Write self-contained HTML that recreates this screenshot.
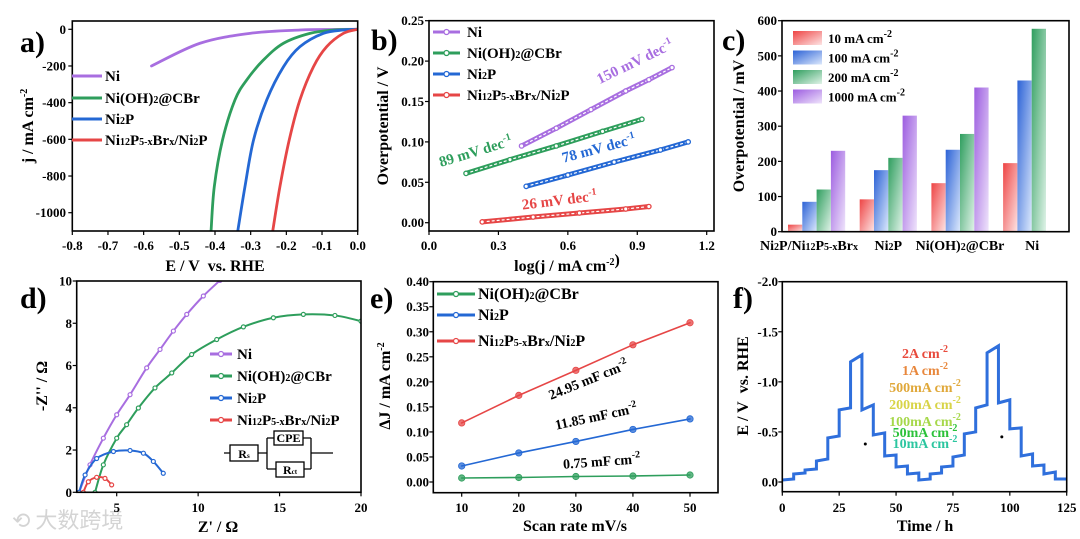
<!DOCTYPE html>
<html><head><meta charset="utf-8">
<style>
html,body{margin:0;padding:0;background:#fff;}
svg{display:block;font-family:"Liberation Serif","Noto Serif CJK SC",serif;font-weight:bold;}
</style></head>
<body>
<svg id="fig" width="1080" height="539" viewBox="0 0 1080 539" xmlns="http://www.w3.org/2000/svg">
<defs>
<linearGradient id="gRed" x1="0" y1="0" x2="1" y2="1"><stop offset="0" stop-color="#ee4444"/><stop offset="1" stop-color="#fde4e4"/></linearGradient>
<linearGradient id="gBlue" x1="0" y1="0" x2="1" y2="1"><stop offset="0" stop-color="#2c62d6"/><stop offset="1" stop-color="#dbe8fc"/></linearGradient>
<linearGradient id="gGreen" x1="0" y1="0" x2="1" y2="1"><stop offset="0" stop-color="#2f9e5e"/><stop offset="1" stop-color="#e0f3e8"/></linearGradient>
<linearGradient id="gPurple" x1="0" y1="0" x2="1" y2="1"><stop offset="0" stop-color="#9c5ce0"/><stop offset="1" stop-color="#efe4fb"/></linearGradient>
</defs>
<text x="20" y="52" font-size="30">a)</text>
<text x="371" y="50" font-size="30">b)</text>
<text x="722" y="50" font-size="30">c)</text>
<text x="20" y="308" font-size="30">d)</text>
<text x="370" y="308" font-size="30">e)</text>
<text x="733" y="308" font-size="30">f)</text>
<text x="12" y="528" font-size="22" fill="#d4d4d4" font-family="'Noto Sans CJK SC',sans-serif" font-weight="normal">⟲ 大数跨境</text>
</svg>
<script>
const NS="http://www.w3.org/2000/svg";
const svg=document.getElementById('fig');
function mk(tag,attrs,parent){const e=document.createElementNS(NS,tag);for(const k in attrs)e.setAttribute(k,attrs[k]);(parent||svg).appendChild(e);return e;}
function lin(d0,d1,p0,p1){return v=>p0+(v-d0)*(p1-p0)/(d1-d0);}

// ---------- Panel a data ----------
const aNiE=[-0.578,-0.442,-0.302,-0.162,-0.07,0.0];
const aNiJ=[-200,-76,-22,-4,-1,0];
const aOHE=[-0.411,-0.402,-0.379,-0.344,-0.311,-0.264,-0.208,-0.134,-0.068,0.0];
const aOHJ=[-1098,-858,-604,-385,-276,-167,-76,-22,-4,0];
const aNi2PE=[-0.336,-0.316,-0.292,-0.255,-0.208,-0.162,-0.096,-0.04,0.0];
const aNi2PJ=[-1098,-858,-604,-385,-204,-95,-22,-4,0];
const aHetE=[-0.238,-0.218,-0.192,-0.162,-0.124,-0.087,-0.04,0.0];
const aHetJ=[-1098,-858,-604,-385,-204,-95,-22,0];
const aXTicks=[-0.8,-0.7,-0.6,-0.5,-0.4,-0.3,-0.2,-0.1,0.0];
const aYTicks=[0,-200,-400,-600,-800,-1000];

// ---------- Panel b data ----------
const bNiX=[0.40,0.55,0.70,0.85,0.95,1.05];
const bNiY=[0.095,0.117,0.140,0.163,0.177,0.192];
const bOHX=[0.16,0.35,0.55,0.75,0.92];
const bOHY=[0.061,0.078,0.095,0.113,0.128];
const bNi2PX=[0.42,0.60,0.80,1.00,1.12];
const bNi2PY=[0.045,0.059,0.075,0.090,0.100];
const bHetX=[0.23,0.45,0.65,0.85,0.95];
const bHetY=[0.001,0.007,0.012,0.017,0.020];
const bXTicks=[0.0,0.3,0.6,0.9,1.2];
const bYTicks=[0.00,0.05,0.10,0.15,0.20,0.25];

// ---------- Panel c data ----------
const cCats=['Ni<tspan font-size="10">2</tspan>P/Ni<tspan font-size="10">12</tspan>P<tspan font-size="10">5-x</tspan>Br<tspan font-size="10">x</tspan>','Ni<tspan font-size="10">2</tspan>P','Ni(OH)<tspan font-size="10">2</tspan>@CBr','Ni'];
const c10=[20,92,138,195];
const c100=[85,175,233,430];
const c200=[120,210,278,577];
const c1000=[230,330,410,null];
const cYTicks=[0,100,200,300,400,500,600];

// ---------- Panel d data ----------
const dNiX=[2.69,3.36,4.18,5.0,5.82,6.84,7.66,8.48,9.3,10.32,11.34];
const dNiY=[0,1.3,2.56,3.67,4.62,5.89,6.76,7.63,8.42,9.29,10.03];
const dOHX=[3.67,4.18,5.0,5.61,6.33,7.35,8.38,9.6,11.14,12.78,14.62,16.46,18.4,20.0];
const dOHY=[0,1.3,2.56,3.2,3.99,4.94,5.65,6.52,7.23,7.83,8.26,8.42,8.37,8.1];
const dNi2PX=[2.69,3.06,3.77,4.8,5.82,6.64,7.25,7.86];
const dNi2PY=[0,0.82,1.6,1.93,1.98,1.85,1.46,0.9];
const dHetX=[2.95,3.26,3.77,4.28,4.69];
const dHetY=[0,0.5,0.71,0.66,0.35];
const dXTicks=[5,10,15,20];
const dYTicks=[0,2,4,6,8,10];

// ---------- Panel e data ----------
const eRates=[10,20,30,40,50];
const eOH=[0.008,0.009,0.011,0.012,0.014];
const eNi2P=[0.032,0.058,0.081,0.105,0.126];
const eHet=[0.118,0.173,0.223,0.274,0.318];
const eYTicks=[0.00,0.05,0.10,0.15,0.20,0.25,0.30,0.35,0.40];

// ---------- Panel f data ----------
const fStart=[0,5,10,15,20,25,30,35,40,45,50,55,60,65,70,75,80,85,90,95,100,105,110,115,120];
const fEa=[-0.02,-0.08,-0.12,-0.21,-0.44,-0.72,-1.20,-0.72,-0.47,-0.26,-0.15,-0.08,-0.02,-0.08,-0.15,-0.25,-0.48,-0.74,-1.29,-0.79,-0.53,-0.26,-0.16,-0.08,-0.03];
const fEb=[-0.03,-0.09,-0.13,-0.23,-0.46,-0.74,-1.27,-0.77,-0.49,-0.27,-0.16,-0.09,-0.03,-0.09,-0.16,-0.27,-0.50,-0.77,-1.36,-0.82,-0.54,-0.28,-0.17,-0.10,-0.03];
const fXTicks=[0,25,50,75,100,125];
const fYTicks=[0.0,-0.5,-1.0,-1.5,-2.0];

function fmt(v,d){return v.toFixed(d);}

function frame(name,L,R,T,B){
  const r=mk('rect',{x:L,y:T,width:R-L,height:B-T,fill:'none',stroke:'#000','stroke-width':1.6});
  
  
}
function xTicks(name,L,R,T,B,ticks,sx,dec,labY){
  ticks.forEach(v=>{
    const x=sx(v);
    const t=mk('line',{x1:x,x2:x,y1:B,y2:B+4,stroke:'#000','stroke-width':1.2});
    
    
    const tx=mk('text',{x:x,y:labY,'font-size':13,'text-anchor':'middle'});
    tx.textContent=fmt(v,dec);
    
    
  });
}
function yTicks(name,L,ticks,sy,dec,labX){
  ticks.forEach(v=>{
    const y=sy(v);
    const t=mk('line',{x1:L-4,x2:L,y1:y,y2:y,stroke:'#000','stroke-width':1.2});
    
    
    const tx=mk('text',{x:labX,y:y+4.5,'font-size':13,'text-anchor':'end'});
    tx.textContent=fmt(v,dec);
    
    
  });
}
function title(name,x,y,html,rot,size){
  const t=mk('text',{x:x,y:y,'font-size':size||16,'text-anchor':'middle',transform:rot?`rotate(-90 ${x} ${y})`:''});
  t.innerHTML=html;
  
  
  return t;
}
function smoothD(pts){
  let d='M'+pts[0][0]+' '+pts[0][1];
  for(let i=0;i<pts.length-1;i++){
    const p0=pts[Math.max(i-1,0)],p1=pts[i],p2=pts[i+1],p3=pts[Math.min(i+2,pts.length-1)];
    const c1x=p1[0]+(p2[0]-p0[0])/6,c1y=p1[1]+(p2[1]-p0[1])/6;
    const c2x=p2[0]-(p3[0]-p1[0])/6,c2y=p2[1]-(p3[1]-p1[1])/6;
    d+=`C${c1x} ${c1y} ${c2x} ${c2y} ${p2[0]} ${p2[1]}`;
  }
  return d;
}
function curve(name,xs,ys,sx,sy,color,w){
  const pts=xs.map((x,i)=>[sx(x),sy(ys[i])]);
  const p=mk('path',{d:smoothD(pts),fill:'none',stroke:color,'stroke-width':w,'stroke-linejoin':'round','stroke-linecap':'round'});
  
  
  return p;
}
function poly(name,xs,ys,sx,sy,color,w){
  const p=mk('polyline',{points:xs.map((x,i)=>sx(x)+','+sy(ys[i])).join(' '),fill:'none',stroke:color,'stroke-width':w,'stroke-linejoin':'round','stroke-linecap':'round'});
  
  
  return p;
}
function dots(name,xs,ys,sx,sy,color,r){
  xs.forEach((x,i)=>{
    const c=mk('circle',{cx:sx(x),cy:sy(ys[i]),r:r,fill:'#fff',stroke:color,'stroke-width':1.3});
    
    
  });
}
function legendRow(name,x1,x2,y,color,html,tx,marker,size){
  const l=mk('line',{x1:x1,x2:x2,y1:y,y2:y,stroke:color,'stroke-width':3});
  
  
  if(marker){
    const c=mk('circle',{cx:(x1+x2)/2,cy:y,r:2.5,fill:'#fff',stroke:color,'stroke-width':1.3});
    
    
  }
  const t=mk('text',{x:tx,y:y+5,'font-size':size||15});
  t.innerHTML=html;
  
  
}
const SUB=s=>`<tspan font-size="10">${s}</tspan>`;
const SUP=s=>`<tspan dy="-6" font-size="10">${s}</tspan>`;
const N_NI='Ni', N_OH='Ni(OH)'+SUB('2')+'@CBr', N_P='Ni'+SUB('2')+'P', N_H='Ni'+SUB('12')+'P'+SUB('5-x')+'Br'+SUB('x')+'/Ni'+SUB('2')+'P';
const PUR='#a86ee0',GRN='#2e9e5c',BLU='#2468d4',RED='#e64646';

// ===== Panel a =====
(function(){
  const L=72.3,R=357.7,T=21,B=231;
  const sx=lin(-0.8,0,L,R), sy=lin(0,-1000,29.3,212.7);
  const c=mk('clipPath',{id:'clipA'});mk('rect',{x:L,y:T,width:R-L,height:B-T},c);
  const g=mk('g',{'clip-path':'url(#clipA)'});
  
  
  [[aNiE,aNiJ,PUR,'lsv-ni'],[aOHE,aOHJ,GRN,'lsv-ni-oh2'],[aNi2PE,aNi2PJ,BLU,'lsv-ni2p'],[aHetE,aHetJ,RED,'lsv-heterostructure']].forEach(s=>{
    const p=curve(s[3],s[0],s[1],sx,sy,s[2],2.8); g.appendChild(p);
  });
  frame('panel-a',L,R,T,B);
  xTicks('panel-a',L,R,T,B,aXTicks,sx,1,250);
  yTicks('panel-a',L,aYTicks,sy,0,66);
  title('panel-a-x-title',215,271,'E / V&#160; vs. RHE');
  title('panel-a-y-title',33,126,'j / mA cm'+SUP('-2'),true);
  legendRow('panel-a-legend-ni',72,102,76,PUR,N_NI,105);
  legendRow('panel-a-legend-ni-oh2',72,102,98,GRN,N_OH,105);
  legendRow('panel-a-legend-ni2p',72,102,119,BLU,N_P,105);
  legendRow('panel-a-legend-het',72,102,140,RED,N_H,105);
})();

// ===== Panel b =====
(function(){
  const L=429,R=714,T=20.7,B=231;
  const sx=lin(0,1.2,429,706.7), sy=lin(0,0.25,222.7,20.7);
  [[bNiX,bNiY,PUR,'tafel-ni'],[bOHX,bOHY,GRN,'tafel-ni-oh2'],[bNi2PX,bNi2PY,BLU,'tafel-ni2p'],[bHetX,bHetY,RED,'tafel-heterostructure']].forEach(s=>{
    poly(s[3],s[0],s[1],sx,sy,s[2],5);
    poly(s[3]+'-core',s[0],s[1],sx,sy,'#fff',1.2).setAttribute('stroke-dasharray','2 3');
    dots(s[3]+'-point',s[0],s[1],sx,sy,s[2],2.2);
  });
  frame('panel-b',L,R,T,B);
  xTicks('panel-b',L,R,T,B,bXTicks,sx,1,250);
  yTicks('panel-b',L,bYTicks,sy,2,424);
  title('panel-b-x-title',567,271,'log(j / mA cm'+SUP('-2')+')');
  title('panel-b-y-title',388,126,'Overpotential / V',true);
  legendRow('panel-b-legend-ni',433,460,32,PUR,N_NI,467,true);
  legendRow('panel-b-legend-ni-oh2',433,460,53,GRN,N_OH,467,true);
  legendRow('panel-b-legend-ni2p',433,460,74,BLU,N_P,467,true);
  legendRow('panel-b-legend-het',433,460,95,RED,N_H,467,true);
  const ann=[[637,66,-26,PUR,'150 mV dec'+SUP('-1'),'slope-ni'],[477,156,-17,GRN,'89 mV dec'+SUP('-1'),'slope-ni-oh2'],[600,153,-15,BLU,'78 mV dec'+SUP('-1'),'slope-ni2p'],[560,205,-7,RED,'26 mV dec'+SUP('-1'),'slope-het']];
  ann.forEach(a=>{const t=mk('text',{x:a[0],y:a[1],'font-size':15,fill:a[3],'text-anchor':'middle',transform:`rotate(${a[2]} ${a[0]} ${a[1]})`});t.innerHTML=a[4];
    
    });
})();

// ===== Panel c =====
(function(){
  const L=782,R=1069,T=20.7,B=231.7;
  const sy=lin(0,600,231.7,20.7);
  const g0=788,gs=71.7,bw=14.3;
  const gx=i=>g0+i*gs;
  const series=[[c10,'url(#gRed)','bar-10ma'],[c100,'url(#gBlue)','bar-100ma'],[c200,'url(#gGreen)','bar-200ma'],[c1000,'url(#gPurple)','bar-1000ma']];
  series.forEach((s,si)=>{
    s[0].forEach((v,i)=>{
      if(v==null)return;
      const r=mk('rect',{x:gx(i)+si*bw,y:sy(v),width:bw,height:sy(0)-sy(v),fill:s[1]});
      
      
    });
  });
  frame('panel-c',L,R,T,B);
  yTicks('panel-c',L,cYTicks,sy,0,777);
  cCats.forEach((c,i)=>{
    const n=(i==3)?3:4;
    const x=(i==0)?gx(0)+21:(i==3?gx(3)+29:gx(i)+n*bw/2);
    const t=mk('text',{x:x,y:250,'font-size':14,'text-anchor':'middle'});t.innerHTML=c;
    
    
  });
  title('panel-c-y-title',744,126,'Overpotential / mV',true);
  const leg=[['url(#gRed)','10 mA cm'+SUP('-2')],['url(#gBlue)','100 mA cm'+SUP('-2')],['url(#gGreen)','200 mA cm'+SUP('-2')],['url(#gPurple)','1000 mA cm'+SUP('-2')]];
  leg.forEach((l,i)=>{
    const y=31+i*19.5;
    const r=mk('rect',{x:793,y:y,width:29,height:14,fill:l[0]});
    
    
    const t=mk('text',{x:828,y:y+12,'font-size':13});t.innerHTML=l[1];
    
    
  });
})();

// ===== Panel d =====
(function(){
  const L=76.7,R=361,T=281,B=492.3;
  const sx=lin(5,20,116.7,361), sy=lin(0,10,492.3,281);
  const c=mk('clipPath',{id:'clipD'});mk('rect',{x:L,y:T,width:R-L,height:B-T},c);
  const g=mk('g',{'clip-path':'url(#clipD)'});
  
  
  [[dNiX,dNiY,PUR,'nyquist-ni'],[dOHX,dOHY,GRN,'nyquist-ni-oh2'],[dNi2PX,dNi2PY,BLU,'nyquist-ni2p'],[dHetX,dHetY,RED,'nyquist-heterostructure']].forEach(s=>{
    g.appendChild(curve(s[3],s[0],s[1],sx,sy,s[2],2));
    s[0].forEach((x,i)=>{const cc=mk('circle',{cx:sx(x),cy:sy(s[1][i]),r:2,fill:'#fff',stroke:s[2],'stroke-width':1.2},g);
      
      });
  });
  frame('panel-d',L,R,T,B);
  xTicks('panel-d',L,R,T,B,dXTicks,sx,0,512);
  yTicks('panel-d',L,dYTicks,sy,0,72);
  title('panel-d-x-title',218,532,"Z' / Ω");
  title('panel-d-y-title',47,386,"-Z'' / Ω",true);
  legendRow('panel-d-legend-ni',210,232,354,PUR,N_NI,237,true,15);
  legendRow('panel-d-legend-ni-oh2',210,232,376,GRN,N_OH,237,true,15);
  legendRow('panel-d-legend-ni2p',210,232,398,BLU,N_P,237,true,15);
  legendRow('panel-d-legend-het',210,232,420,RED,N_H,237,true,15);
  const cg=mk('g',{stroke:'#000','stroke-width':1.3,fill:'none'});
  
  
  mk('path',{d:'M224 453H230M258 453H267M267 438V469M267 438H274M303 438H311M267 469H276M304 469H311M311 438V469M311 453H333'},cg);
  mk('rect',{x:230,y:445,width:28,height:16,fill:'#fff'},cg);
  mk('rect',{x:274,y:431,width:29,height:14,fill:'#fff'},cg);
  mk('rect',{x:276,y:462,width:28,height:15,fill:'#fff'},cg);
  const t1=mk('text',{x:244,y:458,'font-size':12,'text-anchor':'middle'});t1.innerHTML='R'+`<tspan font-size="7">s</tspan>`;
  
  
  const t2=mk('text',{x:288.5,y:442,'font-size':12,'text-anchor':'middle'});t2.textContent='CPE';
  
  
  const t3=mk('text',{x:290,y:474,'font-size':12,'text-anchor':'middle'});t3.innerHTML='R'+`<tspan font-size="7">ct</tspan>`;
  
  
})();

// ===== Panel e =====
(function(){
  const L=433.3,R=718,T=281.7,B=492.7;
  const sx=lin(10,50,461.7,690), sy=lin(0,0.4,482,281.7);
  [[eOH,GRN,'cdl-ni-oh2'],[eNi2P,BLU,'cdl-ni2p'],[eHet,RED,'cdl-heterostructure']].forEach(s=>{
    poly(s[2],eRates,s[0],sx,sy,s[1],1.6);
    eRates.forEach((x,i)=>{const c=mk('circle',{cx:sx(x),cy:sy(s[0][i]),r:3.2,fill:s[1],stroke:s[1],'stroke-width':0.8,'fill-opacity':0.75});
      
      });
  });
  frame('panel-e',L,R,T,B);
  xTicks('panel-e',L,R,T,B,eRates,sx,0,512);
  yTicks('panel-e',L,eYTicks,sy,2,429);
  title('panel-e-x-title',575,531,'Scan rate mV/s');
  title('panel-e-y-title',390,386,'ΔJ / mA cm'+SUP('-2'),true);
  legendRow('panel-e-legend-ni-oh2',437,475,294,GRN,N_OH,478,true,16);
  legendRow('panel-e-legend-ni2p',437,475,315,BLU,N_P,478,true,16);
  legendRow('panel-e-legend-het',437,475,341,RED,N_H,478,true,16);
  const ann=[[590,384,-22,'24.95 mF cm'+SUP('-2'),'cdl-het-annotation'],[597,421,-12,'11.85 mF cm'+SUP('-2'),'cdl-ni2p-annotation'],[602,466,-4,'0.75 mF cm'+SUP('-2'),'cdl-ni-oh2-annotation']];
  ann.forEach(a=>{const t=mk('text',{x:a[0],y:a[1],'font-size':14,'text-anchor':'middle',transform:`rotate(${a[2]} ${a[0]} ${a[1]})`});t.innerHTML=a[3];
    
    });
})();

// ===== Panel f =====
(function(){
  const L=782.3,R=1066.7,T=281.7,B=491.7;
  const sx=lin(0,125,782.3,1066.7), sy=lin(0,-2,482,281.7);
  let d='';
  fStart.forEach((t,i)=>{
    const x0=sx(t),x1=sx(t+5);
    d+=(i==0?'M':'L')+x0+' '+sy(fEa[i])+'L'+x1+' '+sy(fEb[i]);
  });
  const p=mk('path',{d:d,fill:'none',stroke:'#2f6fdc','stroke-width':3,'stroke-linejoin':'miter'});
  
  
  frame('panel-f',L,R,T,B);
  xTicks('panel-f',L,R,T,B,fXTicks,sx,0,512);
  yTicks('panel-f',L,fYTicks,sy,1,778);
  title('panel-f-x-title',925,531,'Time / h');
  title('panel-f-y-title',748,386,'E / V&#160; vs. RHE',true);
  const labs=[['2A cm'+SUP('-2'),'#e84a3c',358],['1A cm'+SUP('-2'),'#e8873c',375],['500mA cm'+SUP('-2'),'#e0a83a',392],['200mA cm'+SUP('-2'),'#d8d448',409],['100mA cm'+SUP('-2'),'#a6d84a',426],['50mA cm'+SUP('-2'),'#2cc23a',437],['10mA cm'+SUP('-2'),'#2cc6a0',448]];
  labs.forEach(l=>{const t=mk('text',{x:925,y:l[2],'font-size':14,fill:l[1],'text-anchor':'middle'});t.innerHTML=l[0];
    
    });
  [[40,-0.38],[100,-0.45]].forEach(q=>{const c=mk('circle',{cx:sx(q[0])-8,cy:sy(q[1]),r:1.5,fill:'#000'});
    
    });
})();
</script>
</body></html>
